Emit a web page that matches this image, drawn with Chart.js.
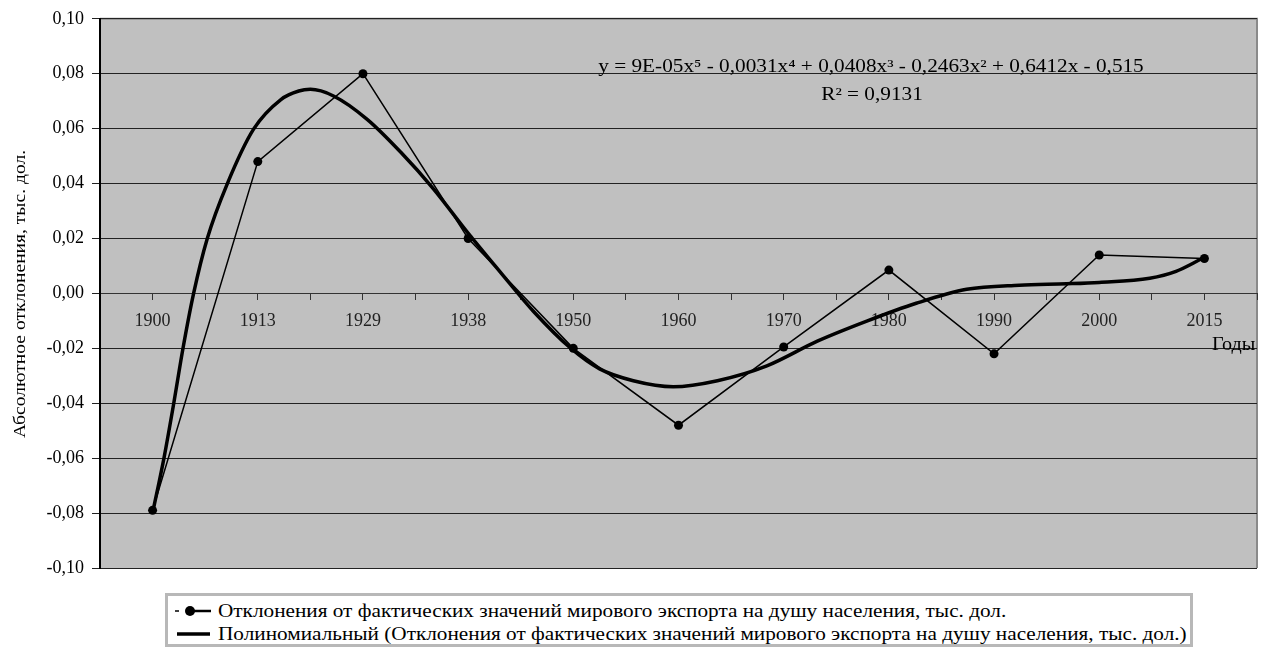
<!DOCTYPE html>
<html>
<head>
<meta charset="utf-8">
<script src="https://cdn.jsdelivr.net/npm/chart.js@4.4.1/dist/chart.umd.min.js"></script>
<style>
  body { margin: 0; background: #fff; }
  #wrap { position: relative; width: 1268px; height: 649px; }
  #legend {
    position: absolute; left: 165px; top: 593px; width: 1022px; height: 48px;
    border: 3px solid #b8b8b8; background: #fff;
    font-family: "Liberation Serif", serif; font-size: 18px; color: #000;
  }
  #legend div { position: absolute; left: 7px; white-space: nowrap; height: 22px; line-height: 22px; }
  #legend svg { vertical-align: middle; margin-right: 7px; }
  #legend span { display: inline-block; transform: scaleX(1.18); transform-origin: left center; vertical-align: middle; }
</style>
</head>
<body>
<div id="wrap">
  <canvas id="chart" width="1268" height="649"></canvas>
  <div id="legend">
    <div style="top:2px"><svg width="36" height="12"><line x1="0" y1="6" x2="4" y2="6" stroke="#000" stroke-width="1.5"/><line x1="12" y1="6" x2="36" y2="6" stroke="#000" stroke-width="2.5"/><circle cx="15" cy="6" r="5" fill="#000"/></svg><span id="lg1"></span></div>
    <div style="top:25px"><svg width="36" height="12"><line x1="2" y1="6" x2="35" y2="6" stroke="#000" stroke-width="3.5"/></svg><span id="lg2"></span></div>
  </div>
</div>
<script>
// categories (years) and observed deviations
const years = ['1900', '1913', '1929', '1938', '1950', '1960', '1970', '1980', '1990', '2000', '2015'];
const deviations = [-0.079, 0.048, 0.080, 0.020, -0.020, -0.048, -0.0195, 0.0085, -0.022, 0.014, 0.0127];

// polynomial trend (x = year index 1..11)
const trendX = [1.0, 1.11, 1.20, 1.29, 1.39, 1.52, 1.71, 1.96, 2.22, 2.39, 2.50, 2.72, 3.04, 3.36, 3.67, 3.99, 4.30, 4.62, 4.97, 5.25, 5.57, 5.95, 6.37, 6.84, 7.32, 7.79, 8.26, 8.74, 9.24, 9.69, 10.0, 10.48, 10.73, 10.98];
const trendY = [-0.080, -0.0596, -0.0403, -0.0198, 0.000, 0.020, 0.0399, 0.0598, 0.0706, 0.0737, 0.0743, 0.0719, 0.0634, 0.0514, 0.0381, 0.0224, 0.0080, -0.0065, -0.0198, -0.0275, -0.0318, -0.034, -0.0318, -0.0264, -0.0174, -0.0101, -0.0036, 0.0015, 0.003, 0.0035, 0.004, 0.0055, 0.008, 0.0127];

const yTicks = { min: -0.10, max: 0.10, step: 0.02 };

const seriesName = 'Отклонения от фактических значений мирового экспорта на душу населения, тыс. дол.';
const trendName = 'Полиномиальный (' + seriesName + ')';
const yTitle = 'Абсолютное отклонения, тыс. дол.';
const xTitle = 'Годы';
const equation = 'y = 9E-05x\u2075 - 0,0031x\u2074 + 0,0408x\u00B3 - 0,2463x\u00B2 + 0,6412x - 0,515';
const rSquared = 'R\u00B2 = 0,9131';

document.getElementById('lg1').textContent = seriesName;
document.getElementById('lg2').textContent = trendName;

const serif = '"Liberation Serif", "Times New Roman", serif';

// text in the source is a bit wider than Liberation Serif, so stretch it
function wideText(ctx, text, x, y, sx, rot) {
  ctx.save();
  ctx.translate(x, y);
  if (rot) ctx.rotate(rot);
  ctx.scale(sx, 1);
  ctx.fillText(text, 0, 0);
  ctx.restore();
}

const plotFrame = {
  id: 'plotFrame',
  beforeDraw(chart) {
    const { ctx, chartArea: a } = chart;
    ctx.save();
    ctx.fillStyle = '#c0c0c0';
    ctx.fillRect(a.left, a.top, a.right - a.left, a.bottom - a.top);
    ctx.strokeStyle = '#8a8a8a';
    ctx.lineWidth = 2;
    ctx.beginPath();
    ctx.moveTo(a.left, a.top);
    ctx.lineTo(a.right, a.top);
    ctx.lineTo(a.right, a.bottom);
    ctx.stroke();
    ctx.restore();
  },
  afterDraw(chart) {
    const { ctx, scales } = chart;
    ctx.save();
    ctx.fillStyle = '#000';
    ctx.textAlign = 'center';
    ctx.textBaseline = 'middle';
    ctx.font = '18px ' + serif;
    wideText(ctx, equation, 871, 67, 1.18);
    wideText(ctx, rSquared, 872, 95, 1.18);
    ctx.textAlign = 'left';
    wideText(ctx, xTitle, 1212, scales.y.getPixelForValue(-0.02) - 3, 1.12);
    ctx.textAlign = 'center';
    ctx.font = '17px ' + serif;
    wideText(ctx, yTitle, 21, 294, 1.15, -Math.PI / 2);
    ctx.restore();
  }
};

new Chart(document.getElementById('chart'), {
  type: 'line',
  data: {
    datasets: [
      {
        label: seriesName,
        data: years.map((_, i) => ({ x: i + 1, y: deviations[i] })),
        borderColor: '#000',
        backgroundColor: '#000',
        borderWidth: 1.5,
        pointRadius: 4.5,
        pointBorderWidth: 0,
        tension: 0,
        order: 1
      },
      {
        label: trendName,
        data: trendX.map((x, i) => ({ x: x, y: trendY[i] })),
        borderColor: '#000',
        borderWidth: 3.5,
        pointRadius: 0,
        cubicInterpolationMode: 'monotone',
        order: 2
      }
    ]
  },
  options: {
    responsive: false,
    animation: false,
    layout: { padding: { left: 0, right: 10, top: 15, bottom: 81 } },
    plugins: { legend: { display: false }, tooltip: { enabled: false } },
    scales: {
      x: {
        type: 'linear',
        min: 0.5,
        max: 11.5,
        position: { y: 0 },
        grid: { drawOnChartArea: false, color: '#333', tickLength: 6 },
        border: { color: '#333', width: 1 },
        ticks: {
          stepSize: 0.5,
          autoSkip: false,
          maxRotation: 0,
          padding: 11,
          color: '#222',
          font: { family: serif, size: 18 },
          callback: v => Number.isInteger(v) && v >= 1 && v <= years.length ? years[v - 1] : ''
        }
      },
      y: {
        min: yTicks.min,
        max: yTicks.max,
        afterFit: s => { s.width = 100; },
        grid: { color: '#222', lineWidth: 1, tickLength: 8 },
        border: { color: '#000', width: 2 },
        ticks: {
          stepSize: yTicks.step,
          padding: 8,
          color: '#000',
          font: { family: serif, size: 18 },
          callback: v => {
            const r = Math.round(v * 100) / 100;
            return (r === 0 ? 0 : r).toFixed(2).replace('.', ',');
          }
        }
      }
    }
  },
  plugins: [plotFrame]
});
</script>
</body>
</html>
